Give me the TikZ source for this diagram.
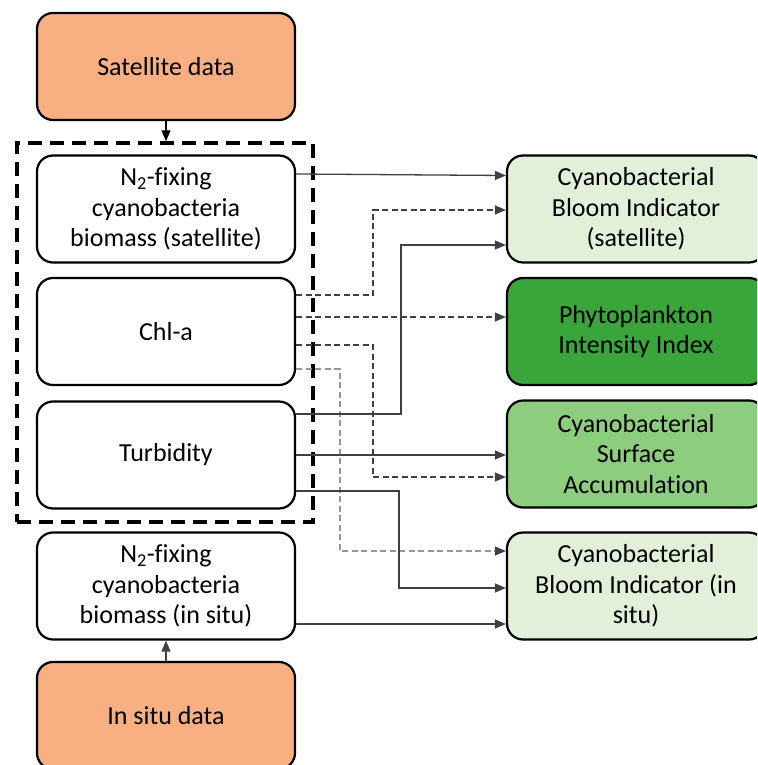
\documentclass[tikz,border=0pt]{standalone}
\usepackage{fontspec}
\setmainfont[Ligatures={NoCommon}]{Carlito}
\usetikzlibrary{arrows.meta}
\definecolor{orangefill}{RGB}{248,176,130}
\definecolor{lightgreen}{RGB}{226,240,217}
\definecolor{darkgreen}{RGB}{58,165,58}
\definecolor{midgreen}{RGB}{140,206,125}
\definecolor{linegray}{RGB}{64,64,64}
\definecolor{palegray}{RGB}{150,150,150}
\tikzset{
  box/.style={draw=black, line width=2.2pt, rounded corners=16pt, align=center,
    minimum width=258pt, minimum height=107pt, inner sep=0pt,
    font=\fontsize{26}{30.5}\selectfont},
  groupbox/.style={draw=black, line width=3.5pt, dash pattern=on 14pt off 8pt,
    minimum width=296pt, minimum height=379pt, inner sep=0pt},
  conn/.style={draw=linegray, line width=1.3pt, -{Triangle[length=11pt,width=9pt]}},
  dconn/.style={conn, dash pattern=on 6pt off 3.5pt},
  lconn/.style={draw=palegray, line width=1.3pt, dash pattern=on 6pt off 3.5pt,
    -{Triangle[length=11pt,width=9pt,fill=linegray,color=linegray]}}
}
\begin{document}
\begin{tikzpicture}[x=1pt,y=-1pt]
\useasboundingbox (0,0) rectangle (757,765);
\clip (0,0) rectangle (757,765);
% left column
\node[box, fill=orangefill] (sat) at (166,66.5) {Satellite data};
\node[groupbox] (grp) at (165,332.5) {};
\node[box] (n2s) at (166,209) {N\textsubscript{2}-fixing\\cyanobacteria\\biomass (satellite)};
\node[box] (chl) at (166,331.5) {Chl-a};
\node[box] (turb) at (166,455) {Turbidity};
\node[box] (n2i) at (166,586) {N\textsubscript{2}-fixing\\cyanobacteria\\biomass (in situ)};
\node[box, fill=orangefill] (ins) at (166,715.5) {In situ data};
% right column
\node[box, fill=lightgreen] (cbis) at (636,209) {Cyanobacterial\\Bloom Indicator\\(satellite)};
\node[box, fill=darkgreen] (phy) at (636,331.5) {Phytoplankton\\Intensity Index};
\node[box, fill=midgreen] (surf) at (636,454) {Cyanobacterial\\Surface\\Accumulation};
\node[box, fill=lightgreen] (cbii) at (636,586) {Cyanobacterial\\Bloom Indicator (in\\situ)};
% vertical arrows
\draw[conn, draw=black] (sat.south) -- (sat.south |- grp.north);
\draw[conn] (ins.north) -- (n2i.south);
% connectors
\draw[conn] (n2s.east |- 0,174) -- (cbis.west |- 0,175.5);
\draw[dconn] (chl.east |- 0,295) -- (373,295) -- (373,210) -- (cbis.west |- 0,210);
\draw[dconn] (chl.east |- 0,317) -- (phy.west |- 0,317);
\draw[dconn] (chl.east |- 0,345) -- (373,345) -- (373,477) -- (surf.west |- 0,477);
\draw[lconn] (chl.east |- 0,369) -- (340,369) -- (340,551) -- (cbii.west |- 0,551);
\draw[conn] (turb.east |- 0,414) -- (401,414) -- (401,245) -- (cbis.west |- 0,245);
\draw[conn] (turb.east |- 0,455) -- (surf.west |- 0,455);
\draw[conn] (turb.east |- 0,491) -- (399,491) -- (399,588) -- (cbii.west |- 0,588);
\draw[conn] (n2i.east |- 0,624) -- (cbii.west |- 0,624);
\end{tikzpicture}
\end{document}
